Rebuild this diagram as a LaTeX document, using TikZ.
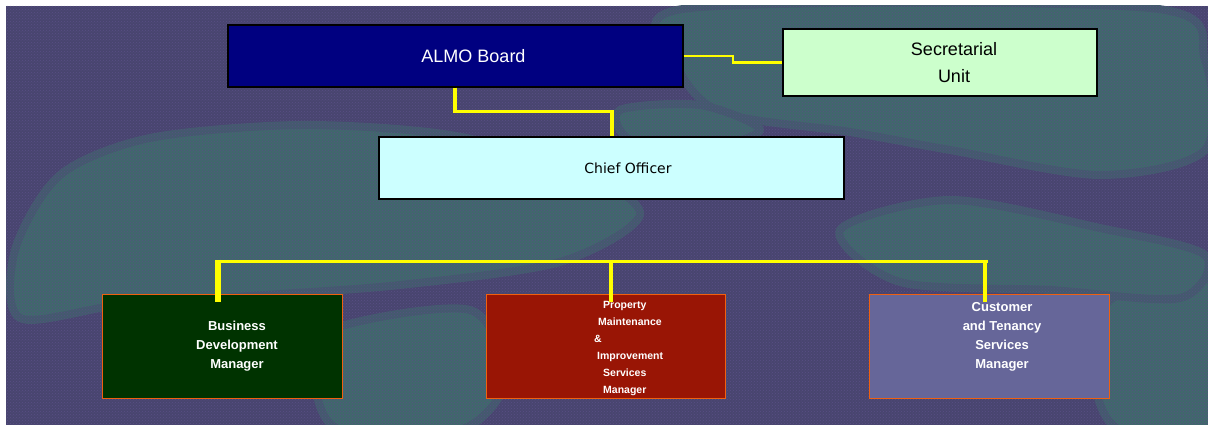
\documentclass[tikz,border=0pt]{standalone}
\usepackage{fontspec}
\setmainfont{Liberation Sans}
\newfontfamily\tahomalike{DejaVu Sans}
\usetikzlibrary{calc,patterns}
\definecolor{bgpurple}{HTML}{48456F}
\definecolor{bgteal}{HTML}{3F696B}
\definecolor{dotpurple}{HTML}{5A4E86}
\definecolor{almo}{HTML}{000080}
\definecolor{secg}{HTML}{CCFFCC}
\definecolor{chief}{HTML}{CCFFFF}
\definecolor{bdmg}{HTML}{003300}
\definecolor{pmir}{HTML}{991505}
\definecolor{ctsb}{HTML}{666699}
\definecolor{obord}{HTML}{F06010}
\definecolor{yel}{HTML}{FFFF00}
\tikzset{
  topbox/.style={draw=black, line width=1.2pt, inner sep=0pt, rectangle},
  mgrbox/.style={draw=obord, line width=1pt, inner sep=0pt, rectangle, minimum width=240pt, minimum height=104pt},
  mgrtext/.style={text=white, font=\fontsize{13}{19}\selectfont\bfseries, align=center},
  link/.style={draw=yel, line cap=butt, line join=miter},
  blob/.style={fill=bgteal, draw=bgteal!60!bgpurple, line width=8pt, line join=round},
}
\begin{document}
\begin{tikzpicture}[x=1pt,y=-1pt]
\useasboundingbox (0,0) rectangle (1208,425);
\fill[white] (0,0) rectangle (1208,425);
% background photo-like texture
\fill[bgpurple] (6,6) rectangle (1208,425);
\begin{scope}
\clip (6,6) rectangle (1208,425);
\path[blob] plot[smooth cycle] coordinates {(15,250) (60,175) (150,138) (300,125) (450,135) (580,170) (640,215) (560,262) (400,285) (250,296) (120,305) (20,318)};
\path[blob] plot[smooth cycle] coordinates {(690,8) (1150,8) (1205,60) (1205,150) (1100,175) (950,150) (850,132) (720,112) (675,60)};
\path[blob] plot[smooth cycle] coordinates {(1110,300) (1210,280) (1210,430) (1120,430) (1095,380)};
\path[blob] plot[smooth cycle] coordinates {(330,330) (470,310) (505,380) (460,430) (340,430) (315,380)};
\path[blob] plot[smooth cycle] coordinates {(840,230) (950,200) (1100,228) (1205,255) (1180,298) (1050,290) (900,282)};
\path[blob] plot[smooth cycle] coordinates {(620,110) (700,105) (760,130) (700,150) (630,140)};
\fill[pattern=crosshatch dots, pattern color=dotpurple] (6,6) rectangle (1208,425);
\end{scope}

% boxes
\node[topbox, fill=almo, minimum width=455pt, minimum height=62pt] (board) at (455.5,56) {};
\node[text=white, font=\fontsize{18}{22}\selectfont] (boardt) at ([xshift=18pt]board.center) {ALMO Board};

\node[topbox, fill=secg, minimum width=314pt, minimum height=67pt] (sec) at (940,62.5) {};
\node[text=black, font=\fontsize{18}{27}\selectfont, align=center] (sect) at ([xshift=14pt]sec.center) {Secretarial\\Unit};

\node[topbox, fill=chief, minimum width=465pt, minimum height=62pt] (chief) at (611.5,168) {};
\node[text=black, font=\tahomalike\fontsize{14}{17}\selectfont] (chieft) at ([xshift=16.5pt]chief.center) {Chief Officer};

\node[mgrbox, fill=bdmg] (bdm) at (222,346) {};
\node[mgrtext] (bdmt) at ([xshift=15pt,yshift=-0.5pt]bdm.center) {Business\\Development\\Manager};

\node[mgrbox, fill=pmir, minimum width=239pt] (pmi) at (605.5,346) {};
\node[text=white, font=\fontsize{10.5}{17}\selectfont\bfseries, align=left, anchor=north west, inner sep=0pt] (pmit) at (594,301.5)
  {\hspace*{9pt}Property\\\hspace*{4pt}Maintenance\\\&\\\hspace*{3pt}Improvement\\\hspace*{9pt}Services\\\hspace*{9pt}Manager};

\node[mgrbox, fill=ctsb] (cts) at (989,346) {};
\node[mgrtext] (ctst) at ([xshift=13pt,yshift=9pt]cts.center) {Customer\\and Tenancy\\Services\\Manager};

% connectors
\coordinate (j1) at (733,56);
\draw[link, line width=2.2pt] (board.east) -- (j1) -- (j1 |- sec.west) -- (sec.west);

\coordinate (c1) at (455,112);
\coordinate (c2) at (612,112);
\draw[link, line width=4.5pt] (c1 |- board.south) -- ([yshift=1.5pt]c1);
\draw[link, line width=3pt] ([xshift=-2.2pt]c1) -- ([xshift=2.2pt]c2);
\draw[link, line width=4.5pt] ([yshift=1.5pt]c2) -- (c2 |- chief.north);

\coordinate (b1) at (218,261);
\coordinate (b2) at (611,261);
\coordinate (b3) at (985,261);
\draw[link, line width=3pt] ([xshift=-2.8pt]b1) -- ([xshift=2.8pt]b3);
\draw[link, line width=5.5pt] ([yshift=1.5pt]b1) -- ($(b1 |- bdm.north)+(0,8)$);
\draw[link, line width=4.8pt] ([yshift=1.5pt]b2) -- ($(b2 |- pmi.north)+(0,8)$);
\draw[link, line width=4.8pt] ([yshift=1.5pt]b3) -- ($(b3 |- cts.north)+(0,8)$);
\end{tikzpicture}
\end{document}
